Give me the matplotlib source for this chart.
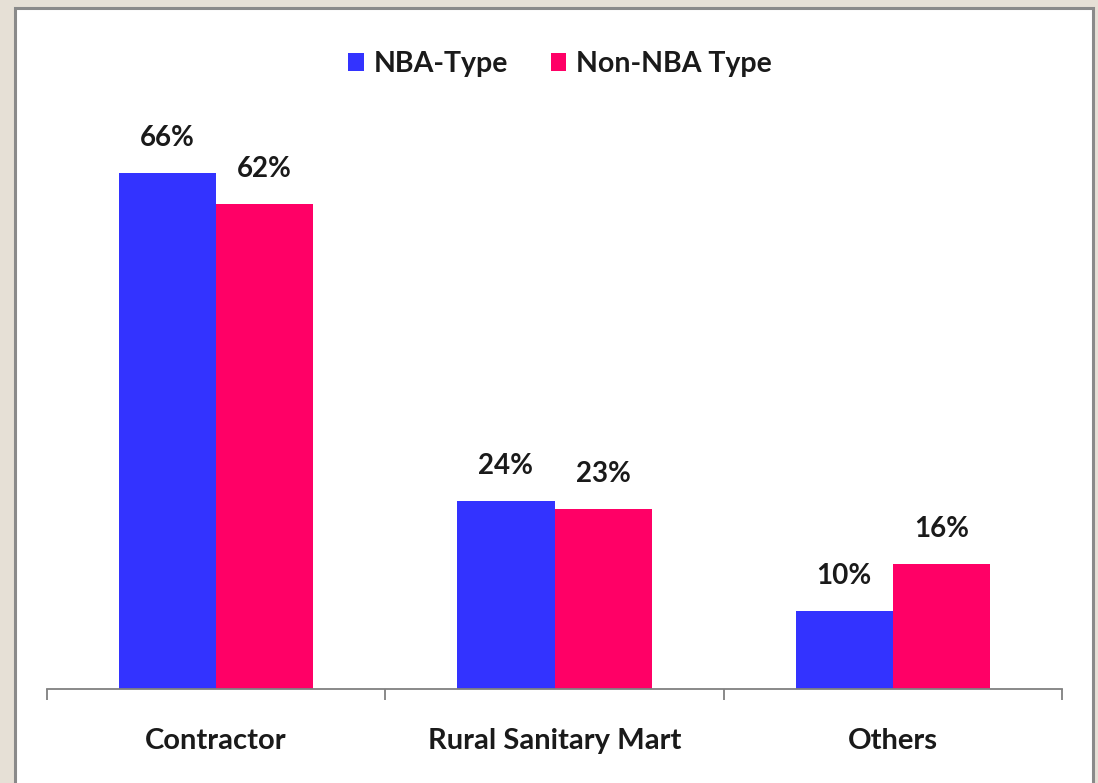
#!/usr/bin/env python3
"""
Grouped bar chart: NBA-Type vs Non-NBA Type by purchase source.
"""

import matplotlib
matplotlib.use('Agg')
import matplotlib.pyplot as plt
from matplotlib.patches import Rectangle

# Data
categories = ['Contractor', 'Rural Sanitary Mart', 'Others']
series_names = ['NBA-Type', 'Non-NBA Type']
nba_values = [66, 24, 10]
non_nba_values = [62, 23, 16]

BLUE = '#3333FF'
PINK = '#FF0066'
TEXT = '#1a1a1a'

# Lato is the closest installed match to the Calibri look
plt.rcParams['font.family'] = ['Lato', 'DejaVu Sans']
plt.rcParams['font.weight'] = 'bold'

W, H = 1098, 783
fig = plt.figure(figsize=(W / 100, H / 100), dpi=100)
fig.patch.set_facecolor('#E6E0D6')

# White panel with a grey border, behind everything
panel = Rectangle((15 / W, -0.02), (1093 - 15) / W, (H - 8) / H + 0.02,
                  transform=fig.transFigure, facecolor='white',
                  edgecolor='#8a8a8a', linewidth=2.2, zorder=-10)
fig.patches.append(panel)

# Axes placed to match the reference
left, right = 47 / W, 1062 / W
bottom = (H - 689) / H
top = (H - 63) / H
ax = fig.add_axes([left, bottom, right - left, top - bottom])
ax.set_facecolor('none')
ax.set_zorder(1)

x = list(range(len(categories)))
width = 0.287
bars1 = ax.bar([i - width / 2 for i in x], nba_values, width, color=BLUE,
               label=series_names[0], zorder=2)
bars2 = ax.bar([i + width / 2 for i in x], non_nba_values, width, color=PINK,
               label=series_names[1], zorder=2)

ax.set_xlim(-0.5, len(categories) - 0.5)
ax.set_ylim(0, 80)

# Value labels
for bars in (bars1, bars2):
    for b in bars:
        ax.annotate(f'{int(b.get_height())}%',
                    (b.get_x() + b.get_width() / 2, b.get_height()),
                    xytext=(0, 25), textcoords='offset points',
                    ha='center', va='center', fontsize=20,
                    color=TEXT)

# Spines and ticks
for s in ('top', 'right', 'left'):
    ax.spines[s].set_visible(False)
ax.spines['bottom'].set_color('#808080')
ax.spines['bottom'].set_linewidth(1.3)
ax.set_yticks([])
ax.set_xticks(x)
ax.set_xticklabels(categories, fontsize=21, color=TEXT)
ax.tick_params(axis='x', which='major', length=0, pad=28)
ax.set_xticks([i - 0.5 for i in range(len(categories) + 1)], minor=True)
ax.tick_params(axis='x', which='minor', length=8, width=1.3,
               color='#808080', direction='out')

# Legend
leg = fig.legend(handles=[bars1, bars2], labels=series_names,
                 loc='center', bbox_to_anchor=(560 / W, (H - 64) / H),
                 ncol=2, frameon=False, fontsize=20.5, handlelength=0.55,
                 handleheight=0.55, handletextpad=0.35, columnspacing=1.5)
for t in leg.get_texts():
    t.set_color(TEXT)

fig.savefig('out.png', dpi=100, facecolor=fig.get_facecolor())
